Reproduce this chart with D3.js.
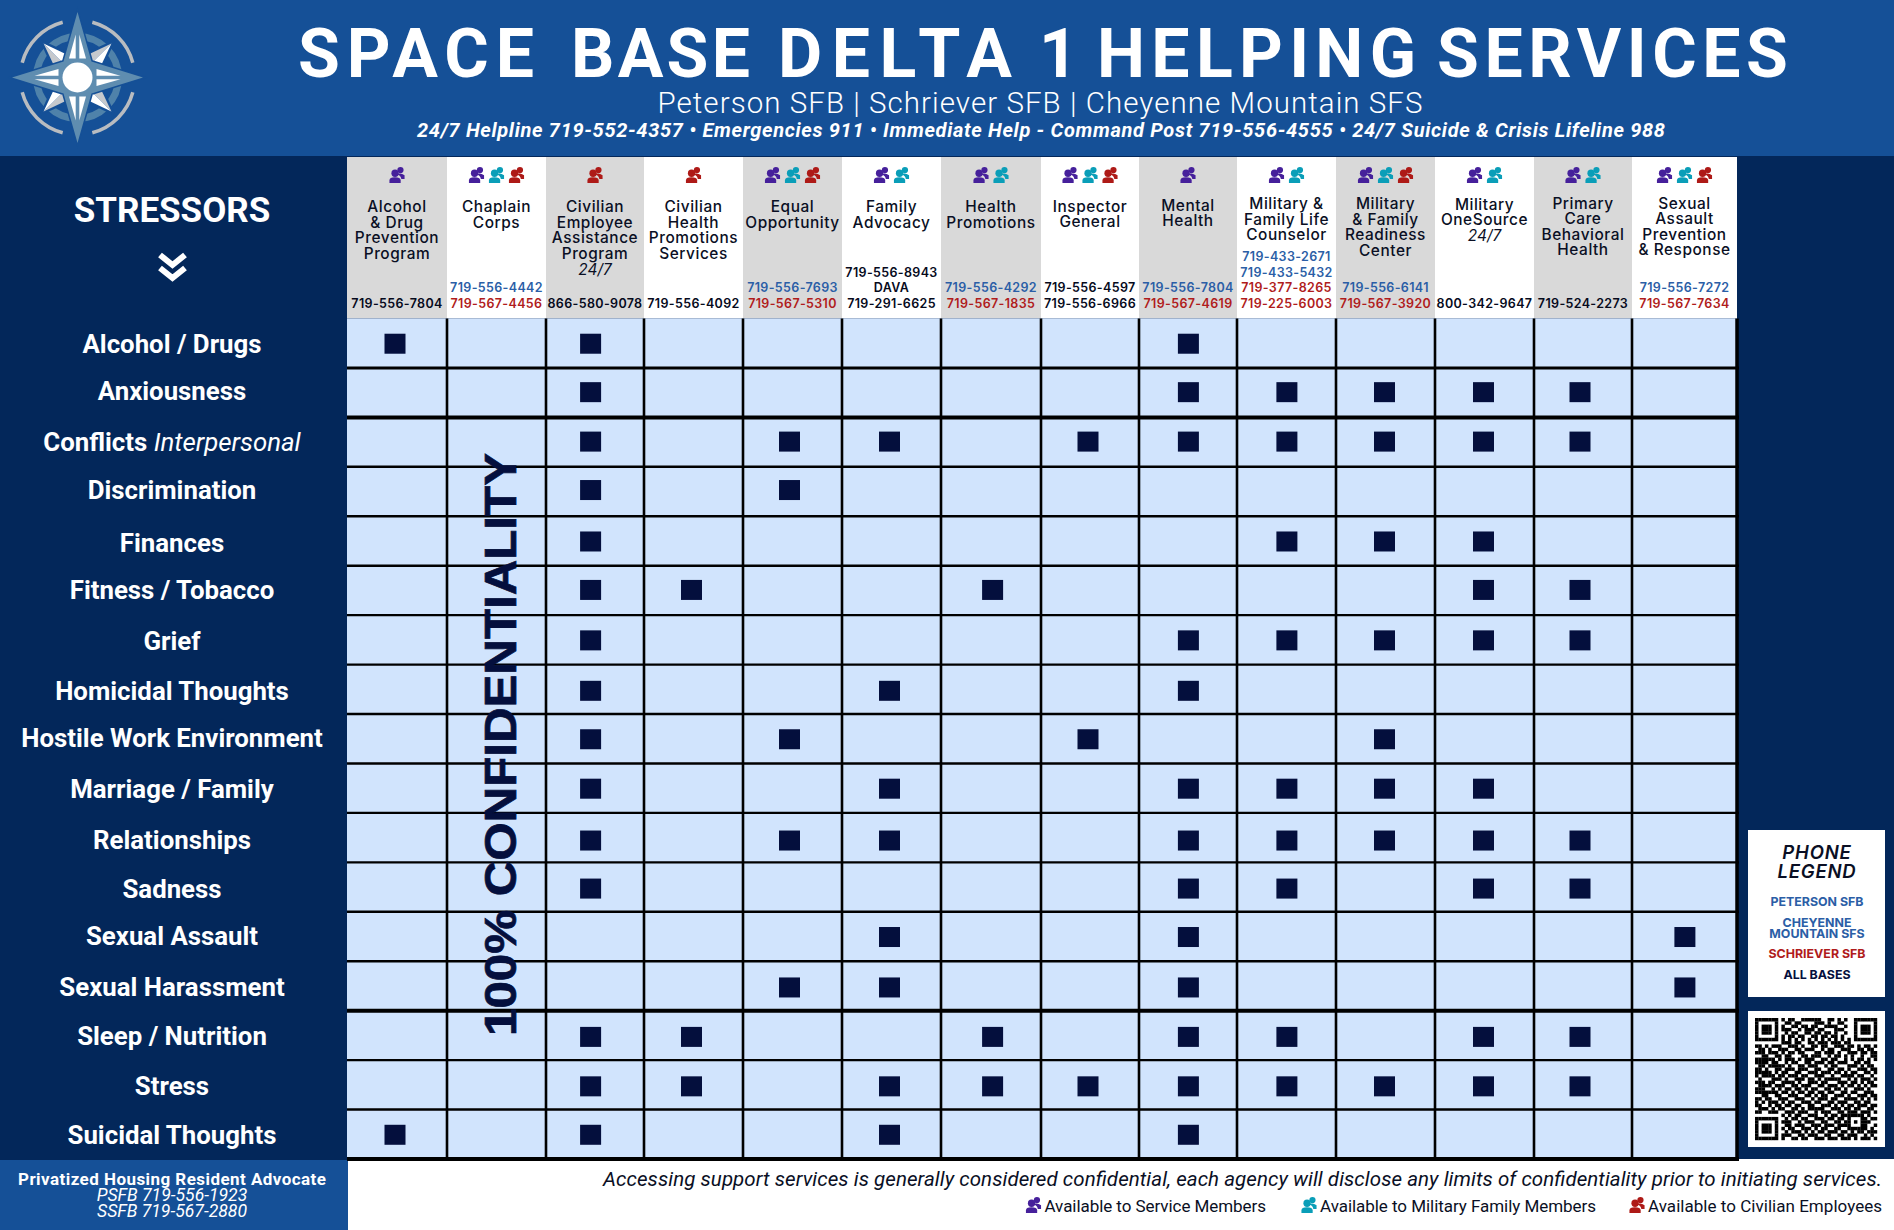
<!DOCTYPE html>
<html>
<head>
<meta charset="utf-8">
<script src="https://cdn.jsdelivr.net/npm/d3@7"></script>
<style>
    html, body { margin: 0; padding: 0; background: #03275a; overflow: hidden; }
    svg { display: block; }
    text { white-space: pre; }
</style>
</head>
<body>
<svg id="chart" width="1894" height="1230"></svg>
<script>
// stressor rows, top to bottom
const stressors = ["Alcohol / Drugs", "Anxiousness", "Conflicts Interpersonal", "Discrimination", "Finances", "Fitness / Tobacco", "Grief", "Homicidal Thoughts", "Hostile Work Environment", "Marriage / Family", "Relationships", "Sadness", "Sexual Assault", "Sexual Harassment", "Sleep / Nutrition", "Stress", "Suicidal Thoughts"];

// service columns, one list of name lines per column
const services = [
    ["Alcohol", "& Drug", "Prevention", "Program"],
    ["Chaplain", "Corps"],
    ["Civilian", "Employee", "Assistance", "Program", "24/7"],
    ["Civilian", "Health", "Promotions", "Services"],
    ["Equal", "Opportunity"],
    ["Family", "Advocacy"],
    ["Health", "Promotions"],
    ["Inspector", "General"],
    ["Mental", "Health"],
    ["Military &", "Family Life", "Counselor"],
    ["Military", "& Family", "Readiness", "Center"],
    ["Military", "OneSource", "24/7"],
    ["Primary", "Care", "Behavioral", "Health"],
    ["Sexual", "Assault", "Prevention", "& Response"]
];

// S service members, F family members, C civilian employees
const audiences = ["S", "SFC", "C", "C", "SFC", "SF", "SF", "SFC", "S", "SF", "SFC", "SF", "SF", "SFC"];

// phone lines per column, p peterson/cheyenne, s schriever, a all bases
const phones = [
    [["a", "719-556-7804"]],
    [["p", "719-556-4442"], ["s", "719-567-4456"]],
    [["a", "866-580-9078"]],
    [["a", "719-556-4092"]],
    [["p", "719-556-7693"], ["s", "719-567-5310"]],
    [["a", "719-556-8943"], ["a", "DAVA"], ["a", "719-291-6625"]],
    [["p", "719-556-4292"], ["s", "719-567-1835"]],
    [["a", "719-556-4597"], ["a", "719-556-6966"]],
    [["p", "719-556-7804"], ["s", "719-567-4619"]],
    [["p", "719-433-2671"], ["p", "719-433-5432"], ["s", "719-377-8265"], ["s", "719-225-6003"]],
    [["p", "719-556-6141"], ["s", "719-567-3920"]],
    [["a", "800-342-9647"]],
    [["a", "719-524-2273"]],
    [["p", "719-556-7272"], ["s", "719-567-7634"]]
];

// for each stressor, the service columns that have a mark
const marks = [
    [0, 2, 8],
    [2, 8, 9, 10, 11, 12],
    [2, 4, 5, 7, 8, 9, 10, 11, 12],
    [2, 4],
    [2, 9, 10, 11],
    [2, 3, 6, 11, 12],
    [2, 8, 9, 10, 11, 12],
    [2, 5, 8],
    [2, 4, 7, 10],
    [2, 5, 8, 9, 10, 11],
    [2, 4, 5, 8, 9, 10, 11, 12],
    [2, 8, 9, 11, 12],
    [5, 8, 13],
    [4, 5, 8, 13],
    [2, 3, 6, 8, 9, 11, 12],
    [2, 3, 5, 6, 7, 8, 9, 10, 11, 12],
    [0, 2, 5, 8]
];

const legendItems = [
    ["S", "Available to Service Members"],
    ["F", "Available to Military Family Members"],
    ["C", "Available to Civilian Employees"]
];

const phoneLegend = [
    ["p", "PETERSON SFB"],
    ["p", "CHEYENNE"],
    ["p", "MOUNTAIN SFS"],
    ["s", "SCHRIEVER SFB"],
    ["a", "ALL BASES"]
];

const titleWords = ["SPACE", "BASE", "DELTA", "1", "HELPING", "SERVICES"];

// qr code, best effort
const qrRows = [
    "1111111010110011111100110101001111111",
    "1000001001101100001110100110001000001",
    "1011101010011011011001111001001011101",
    "1011101011100101110110001110001011101",
    "1011101001011001101101101001001011101",
    "1000001010110110011011011010001000001",
    "1111111010101010101010101010101111111",
    "0000000011101100110111011101100000000",
    "1101011100111010011011001110110101101",
    "0110100111001101110010110011100110110",
    "1110111010110110001101110100111011011",
    "0011001101100011011100101101010010011",
    "1111110101110101110011011001010110101",
    "1111011001011001101110110111001101100",
    "0110111110100110111001011000111010110",
    "1101001101110111001100110110100111011",
    "1111101011001100111011101101011001101",
    "1011110110111011001110010011110110010",
    "0100011101001110110101111100101011101",
    "1110110011110100111011000111011010110",
    "0111101110011011100110111010110101011",
    "1110010101101101011001101101001110100",
    "1111111011010110110110110011011001110",
    "0011001100111001101011001110100111011",
    "1101100111001110010111011001111010101",
    "1010111010110011101100110111001101100",
    "1100101101101100110011101010110111011",
    "0111010110011010111110011101101100110",
    "1100111001110111001011100110111011101",
    "0000000010101100111001011011111110100",
    "1111111001011011001110110110100011011",
    "1000001011100101110011001101101011100",
    "1011101001101110011101110111100011001",
    "1011101010110011101011001100111111010",
    "1011101001011101010110111011010110111",
    "1000001011100110111001100110111001010",
    "1111111010011011001110111011101011101"
];

// page layout
const width = 1894, height = 1230;
const columnEdges = [347, 447, 546, 644, 743, 842, 941, 1041, 1139, 1237, 1336, 1435, 1534, 1632, 1737];
const nameTops = [206.7, 206.7, 206.7, 206.7, 206.7, 206.7, 206.7, 206, 205, 203.7, 203.7, 204, 203, 203];
const markNudgeX = [-2, 0, -4.4, -2, -3, -2, 1.6, -2, 0.4, 0.4, -1, -1, -3, 0.4];
const markNudgeY = [0, -1, -1, -2, 0, -1, 0, 1, 0, 0, 2.4, 1, 0, 1, 1, 1, 0];
const labelNudgeY = [0.5, -1.5, -0.5, -1.5, 2, -0.5, 1.5, 2, -0.5, 0.5, 2, 1.5, -0.5, 1.5, 0.5, 1.5, 0.5];
const titleStarts = [298, 571, 778, 1039, 1097, 1437];
const titleEnds = [534, 750, 1012, 1062, 1416, 1788];
const gridTop = 318.5, gridBottom = 1159, headerTop = 157;

const navy = "#03275a", blue = "#155097", cellFill = "#d1e4fd", markFill = "#040f3d", ink = "#0a0f24";
const phoneColor = { p: "#2b5ea6", s: "#b01c1c", a: "#060a1c" };
const audienceColor = { S: "#46209b", F: "#0a9eb8", C: "#ae1a17" };

const svg = d3.select("#chart");
const x = d3.scaleLinear().domain(d3.range(columnEdges.length)).range(columnEdges);
const y = d3.scaleBand().domain(stressors).range([gridTop, gridBottom]);

const addText = (parent, str, px, py, size, fill, opts = {}) => {
    let t = parent.append("text").attr("x", px).attr("y", py)
        .attr("font-family", opts.family || "Roboto")
        .attr("font-size", size)
        .attr("font-weight", opts.weight || 400)
        .attr("font-style", opts.italic ? "italic" : "normal")
        .attr("text-anchor", opts.anchor || "middle")
        .attr("dominant-baseline", opts.baseline || "auto")
        .attr("fill", fill)
        .text(str);
    if(opts.length) t.attr("textLength", opts.length).attr("lengthAdjust", opts.adjust || "spacing");
    if(opts.spacing) t.attr("letter-spacing", opts.spacing);
    return t;
};

// two little busts, centred on 0,0
const drawIcon = (parent, code, cx, cy) => {
    let g = parent.append("g").attr("transform", `translate(${cx},${cy}) scale(1.08)`).attr("fill", audienceColor[code]);
    g.append("circle").attr("cx", 3.2).attr("cy", -4.6).attr("r", 2.9);
    g.append("path").attr("d", "M0.5,-1.2 Q4,-2.2 7,0.2 L7,3.6 L4,3.6 Q3.6,0.6 0.5,-0.2 Z");
    g.append("circle").attr("cx", -1.8).attr("cy", -1.6).attr("r", 3.4);
    g.append("path").attr("d", "M-7,7.5 L-7,5 Q-7,2 -2,2 Q3.4,2 3.4,5 L3.4,7.5 Z");
};

// backgrounds
svg.append("rect").attr("width", width).attr("height", height).attr("fill", navy);
svg.append("rect").attr("width", width).attr("height", 156).attr("fill", blue);
svg.append("rect").attr("x", 0).attr("y", gridBottom + 1).attr("width", 348).attr("height", height - gridBottom).attr("fill", blue);
svg.append("rect").attr("x", 348).attr("y", gridBottom).attr("width", width - 348).attr("height", height - gridBottom).attr("fill", "#fff");

// compass logo
const logo = svg.append("g").attr("transform", "translate(77.5,77.5)");
const steel = "#5f8db0";
logo.append("circle").attr("r", 41).attr("fill", "none").attr("stroke", "#4f82aa").attr("stroke-width", 7);
d3.range(4).forEach(k => {
    logo.append("path")
        .attr("d", d3.arc().innerRadius(55.5).outerRadius(59).startAngle(Math.PI / 180 * (15 + k * 90)).endAngle(Math.PI / 180 * (75 + k * 90))())
        .attr("fill", "#b9bcc0");
    let diag = logo.append("g").attr("transform", `rotate(${45 + k * 90})`);
    diag.append("path").attr("d", "M0,-50 L-12,-18 L12,-18 Z").attr("fill", blue).attr("stroke", blue).attr("stroke-width", 3);
    diag.append("path").attr("d", "M0,-48 L-10,-20 L0,-20 Z").attr("fill", "#c6c9cd");
    diag.append("path").attr("d", "M0,-48 L10,-20 L0,-20 Z").attr("fill", "#fff");
});
logo.append("path")
    .attr("d", "M0,-65.5 L14,-16 L65.5,0 L14,16 L0,65.5 L-14,16 L-65.5,0 L-14,-16 Z")
    .attr("fill", steel).attr("stroke", blue).attr("stroke-width", 3).attr("paint-order", "stroke");
d3.range(4).forEach(k => {
    let arm = logo.append("g").attr("transform", `rotate(${k * 90})`);
    arm.append("path").attr("d", "M-1.8,-43 L-1.8,-19 L-8.5,-19 Z").attr("fill", "#fff");
    arm.append("path").attr("d", "M1.8,-43 L1.8,-19 L8.5,-19 Z").attr("fill", "#fff");
});
logo.append("circle").attr("r", 15).attr("fill", "#fff");

// page title, letter spacing worked out word by word
const title = addText(svg, "", 0, 77, 68, "#fff", { weight: 700, anchor: "start" });
titleWords.forEach((word, i) => {
    let probe = addText(svg, word, 0, 0, 68, "none", { weight: 700, anchor: "start" });
    let natural = probe.node().getComputedTextLength();
    probe.remove();
    let gap = word.length > 1 ? (titleEnds[i] - titleStarts[i] - natural) / (word.length - 1) : 0;
    title.append("tspan").attr("x", titleStarts[i]).attr("letter-spacing", gap)
        .text(i < titleWords.length - 1 ? word + " " : word);
});
addText(svg, "Peterson SFB | Schriever SFB | Cheyenne Mountain SFS", 1040, 113, 29.5, "#fff", { weight: 300, length: 765 });
addText(svg, "24/7 Helpline 719-552-4357 • Emergencies 911 • Immediate Help - Command Post 719-556-4555 • 24/7 Suicide & Crisis Lifeline 988", 1041, 137, 20, "#fff", { weight: 700, italic: true, length: 1248 });

// left panel heading and chevrons
addText(svg, "STRESSORS", 172, 222, 35, "#fff", { weight: 700 });
[255, 268].forEach(top => {
    svg.append("path").attr("d", `M160,${top} L172.5,${top + 10} L185,${top}`)
        .attr("fill", "none").attr("stroke", "#fff").attr("stroke-width", 6);
});

// header cells
const headers = svg.selectAll(".service").data(services).enter().append("g").attr("class", "service");
headers.append("rect")
    .attr("x", (d, i) => x(i)).attr("y", headerTop)
    .attr("width", (d, i) => x(i + 1) - x(i)).attr("height", gridTop - headerTop)
    .attr("fill", (d, i) => i % 2 === 0 ? "#d9d9d9" : "#fff");

services.forEach((lines, i) => {
    let cx = x(i + 0.5);
    let codes = audiences[i].split("");
    codes.forEach((code, k) => drawIcon(svg, code, cx + (k - (codes.length - 1) / 2) * 20, 175));
    lines.forEach((line, k) => {
        let isHours = line === "24/7";
        addText(svg, line, cx, nameTops[i] + k * 15.6, 15.4, ink, {
            family: "Inter", weight: isHours ? 400 : 500, italic: isHours, baseline: "central", spacing: isHours ? 0 : 0.55
        });
    });
    let rows = phones[i];
    rows.forEach((row, k) => {
        addText(svg, row[1], cx, 303 - (rows.length - 1 - k) * 15.5, 12.5, phoneColor[row[0]], {
            family: "Inter", weight: 600, baseline: "central", spacing: 0.35
        });
    });
});

// grid
svg.append("rect").attr("x", x(0)).attr("y", gridTop).attr("width", x(14) - x(0)).attr("height", gridBottom - gridTop).attr("fill", cellFill);

svg.selectAll(".row-line").data(stressors).enter().append("line")
    .attr("class", "row-line")
    .attr("x1", x(0)).attr("x2", x(14) + 2)
    .attr("y1", d => y(d) + y.bandwidth()).attr("y2", d => y(d) + y.bandwidth())
    .attr("stroke", "#000")
    .attr("stroke-width", (d, i) => i === 1 || i === 13 || i === 16 ? 4 : i === 0 ? 3 : 2.4);

svg.selectAll(".col-line").data(d3.range(1, 15)).enter().append("line")
    .attr("class", "col-line")
    .attr("x1", d => x(d)).attr("x2", d => x(d))
    .attr("y1", gridTop).attr("y2", gridBottom)
    .attr("stroke", "#000")
    .attr("stroke-width", d => d === 14 ? 3.5 : 2.6);

// marks
stressors.forEach((name, r) => {
    svg.selectAll(null).data(marks[r]).enter().append("rect")
        .attr("class", "mark")
        .attr("x", c => x(c + 0.5) + markNudgeX[c] - 10.5)
        .attr("y", y(name) + y.bandwidth() / 2 - 9.5 + markNudgeY[r])
        .attr("width", 21).attr("height", 20)
        .attr("fill", markFill);
});

// stressor labels
stressors.forEach((name, r) => {
    let cy = y(name) + y.bandwidth() / 2 + labelNudgeY[r];
    let label = svg.append("text")
        .attr("x", 172).attr("y", cy)
        .attr("text-anchor", "middle").attr("dominant-baseline", "central")
        .attr("font-family", "Roboto").attr("font-size", 25.8).attr("fill", "#fff");
    if(name === "Conflicts Interpersonal") {
        label.append("tspan").attr("font-weight", 700).text("Conflicts ");
        label.append("tspan").attr("font-style", "italic").text("Interpersonal");
    } else {
        label.attr("font-weight", 700).text(name);
    }
});

// rotated note over the chaplain column
svg.append("text")
    .attr("transform", "translate(516,1036) rotate(-90)")
    .attr("font-family", "Liberation Sans").attr("font-weight", 700).attr("font-size", 45)
    .attr("textLength", 583).attr("lengthAdjust", "spacingAndGlyphs")
    .attr("fill", markFill).attr("stroke", markFill).attr("stroke-width", 0.7)
    .text("100% CONFIDENTIALITY");

// housing advocate box
addText(svg, "Privatized Housing Resident Advocate", 172, 1179, 17, "#fff", { weight: 700, baseline: "central", length: 308 });
addText(svg, "PSFB 719-556-1923", 172, 1195, 17.6, "#fff", { italic: true, baseline: "central" });
addText(svg, "SSFB 719-567-2880", 172, 1211, 17.6, "#fff", { italic: true, baseline: "central" });

// footer note and audience legend
addText(svg, "Accessing support services is generally considered confidential, each agency will disclose any limits of confidentiality prior to initiating services.", 1882, 1179, 20.5, ink, { italic: true, anchor: "end", baseline: "central", length: 1279 });

const legendTextX = [1044.5, 1320, 1648];
const legendTextLen = [221.5, 276, 234];
legendItems.forEach((item, i) => {
    drawIcon(svg, item[0], legendTextX[i] - 11, 1205);
    addText(svg, item[1], legendTextX[i], 1206, 17, ink, { anchor: "start", baseline: "central", length: legendTextLen[i] });
});

// phone legend box
svg.append("rect").attr("x", 1748).attr("y", 830).attr("width", 137).attr("height", 167).attr("fill", "#fff");
addText(svg, "PHONE", 1817, 852, 18.5, ink, { family: "Inter", weight: 600, italic: true, baseline: "central", spacing: 0.8 });
addText(svg, "LEGEND", 1817, 871, 18.5, ink, { family: "Inter", weight: 600, italic: true, baseline: "central", spacing: 0.8 });
const legendY = [901, 922, 933, 953, 974];
phoneLegend.forEach((item, i) => {
    addText(svg, item[1], 1817, legendY[i], 12.4, item[0] === "a" ? markFill : phoneColor[item[0]], { family: "Inter", weight: 700, baseline: "central" });
});

// qr code
svg.append("rect").attr("x", 1748).attr("y", 1011).attr("width", 137).attr("height", 136).attr("fill", "#fff");
const qr = d3.scaleBand().domain(d3.range(qrRows.length)).range([0, 122]);
const qrGroup = svg.append("g").attr("transform", "translate(1755,1018)");
qrRows.forEach((row, r) => {
    row.split("").forEach((bit, c) => {
        if(bit === "1") {
            qrGroup.append("rect").attr("x", qr(c)).attr("y", qr(r))
                .attr("width", qr.bandwidth() + 0.2).attr("height", qr.bandwidth() + 0.2).attr("fill", "#000");
        }
    });
});
</script>
</body>
</html>
